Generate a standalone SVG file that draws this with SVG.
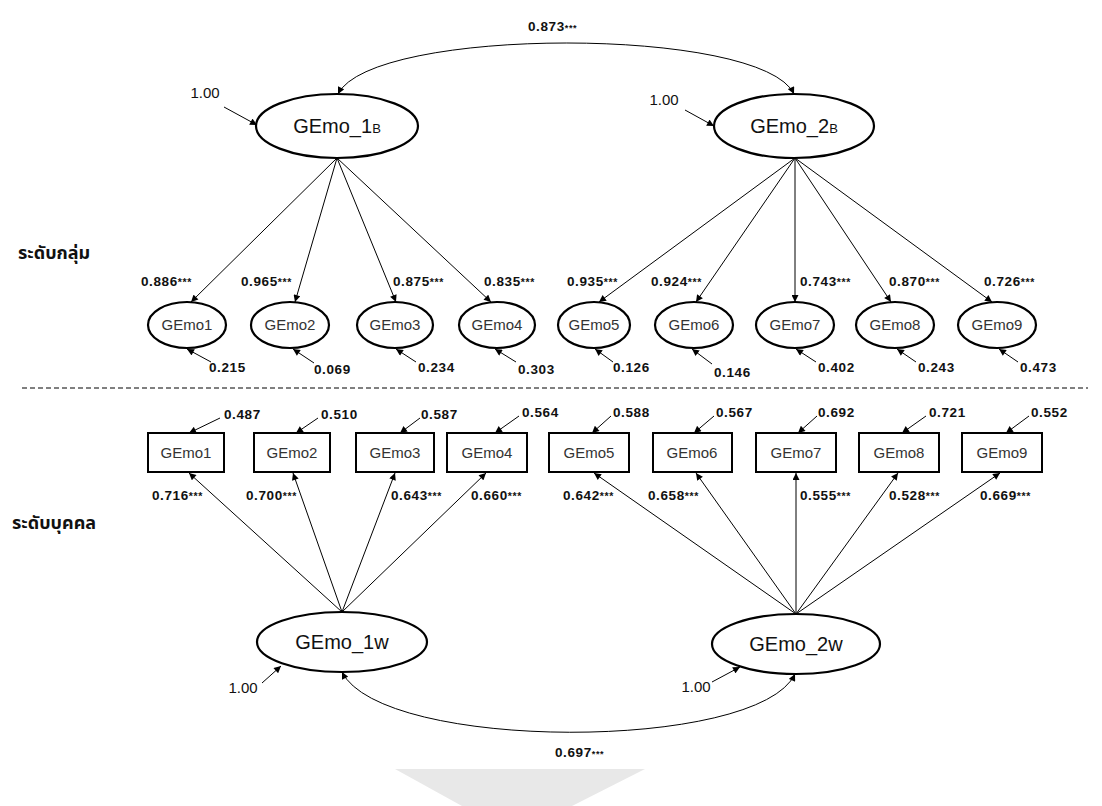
<svg xmlns="http://www.w3.org/2000/svg" width="1102" height="806" viewBox="0 0 1102 806">
  <style>
    .lat { fill: #fff; stroke: #000; stroke-width: 2.2; }
    .obs { fill: #fff; stroke: #000; stroke-width: 2; }
    .ln { fill: none; stroke: #000; stroke-width: 1; }
    .big { font-family: "Liberation Sans", Arial, sans-serif; font-size: 20px; fill: #111; text-anchor: middle; }
    .sub { font-size: 13px; }
    .ind { font-family: "Liberation Sans", Arial, sans-serif; font-size: 15px; fill: #333; text-anchor: middle; }
    .num { font-family: "Liberation Sans", Arial, sans-serif; font-size: 13.5px; font-weight: bold; fill: #111; letter-spacing: 0.6px; }
    .star { font-size: 10.5px; }
    .tiny { font-size: 9px; }
    .one { font-family: "Liberation Sans", Arial, sans-serif; font-size: 15px; fill: #111; text-anchor: middle; }
    .lvl { font-family: "Noto Sans Thai", "Noto Sans", Tahoma, "Loma", sans-serif; font-size: 18px; font-weight: bold; fill: #111; }
  </style>
  <defs>
    <marker id="ah" viewBox="0 0 10 10" refX="10" refY="5" markerWidth="8" markerHeight="7" markerUnits="userSpaceOnUse" orient="auto-start-reverse">
      <path d="M0,0 L10,5 L0,10 z" fill="#000"/>
    </marker>
  </defs>

  <rect width="1102" height="806" fill="#fff"/>

  <!-- light watermark wedge at the bottom edge -->
  <polygon points="395,769 645,769 572,806 462,806" fill="#e8e8e8"/>

  <!-- level captions -->
  <text class="lvl" x="18" y="259">ระดับกลุ่ม</text>
  <text class="lvl" x="12" y="529">ระดับบุคคล</text>

  <!-- separator between the two levels -->
  <line x1="22" y1="388" x2="1088" y2="388" stroke="#000" stroke-width="1" stroke-dasharray="5,3"/>

  <g id="connectors">
    <!-- between-level covariance -->
    <path class="ln" d="M338,94 C372,26 762,26 794,94" marker-start="url(#ah)" marker-end="url(#ah)"/>
    <!-- between-level variances -->
    <line class="ln" x1="224" y1="107" x2="257" y2="125" marker-end="url(#ah)"/>
    <line class="ln" x1="685" y1="110" x2="714" y2="126" marker-end="url(#ah)"/>
    <!-- between-level loadings -->
    <line class="ln" x1="337" y1="158" x2="191" y2="302" marker-end="url(#ah)"/>
    <line class="ln" x1="337" y1="158" x2="295" y2="302" marker-end="url(#ah)"/>
    <line class="ln" x1="337" y1="158" x2="396" y2="302" marker-end="url(#ah)"/>
    <line class="ln" x1="337" y1="158" x2="491" y2="302" marker-end="url(#ah)"/>
    <line class="ln" x1="795" y1="158" x2="599" y2="302" marker-end="url(#ah)"/>
    <line class="ln" x1="795" y1="158" x2="696" y2="302" marker-end="url(#ah)"/>
    <line class="ln" x1="795" y1="158" x2="795" y2="302" marker-end="url(#ah)"/>
    <line class="ln" x1="795" y1="158" x2="891" y2="302" marker-end="url(#ah)"/>
    <line class="ln" x1="795" y1="158" x2="992" y2="302" marker-end="url(#ah)"/>
    <!-- between-level residuals -->
    <line class="ln" x1="211" y1="362" x2="187" y2="349" marker-end="url(#ah)"/>
    <line class="ln" x1="314" y1="363" x2="293" y2="349" marker-end="url(#ah)"/>
    <line class="ln" x1="416" y1="362" x2="396" y2="349" marker-end="url(#ah)"/>
    <line class="ln" x1="516" y1="362" x2="495" y2="349" marker-end="url(#ah)"/>
    <line class="ln" x1="613" y1="362" x2="595" y2="349" marker-end="url(#ah)"/>
    <line class="ln" x1="712" y1="364" x2="692" y2="349" marker-end="url(#ah)"/>
    <line class="ln" x1="816" y1="362" x2="796" y2="349" marker-end="url(#ah)"/>
    <line class="ln" x1="916" y1="362" x2="897" y2="349" marker-end="url(#ah)"/>
    <line class="ln" x1="1018" y1="362" x2="999" y2="349" marker-end="url(#ah)"/>
    <!-- within-level residuals -->
    <line class="ln" x1="220" y1="418" x2="189" y2="433" marker-end="url(#ah)"/>
    <line class="ln" x1="318" y1="418" x2="296" y2="433" marker-end="url(#ah)"/>
    <line class="ln" x1="420" y1="418" x2="400" y2="433" marker-end="url(#ah)"/>
    <line class="ln" x1="519" y1="416" x2="495" y2="433" marker-end="url(#ah)"/>
    <line class="ln" x1="611" y1="416" x2="592" y2="433" marker-end="url(#ah)"/>
    <line class="ln" x1="714" y1="416" x2="694" y2="433" marker-end="url(#ah)"/>
    <line class="ln" x1="817" y1="416" x2="798" y2="433" marker-end="url(#ah)"/>
    <line class="ln" x1="926" y1="416" x2="902" y2="433" marker-end="url(#ah)"/>
    <line class="ln" x1="1029" y1="416" x2="1006" y2="433" marker-end="url(#ah)"/>
    <!-- within-level loadings -->
    <line class="ln" x1="342" y1="612" x2="189" y2="473" marker-end="url(#ah)"/>
    <line class="ln" x1="342" y1="612" x2="293" y2="473" marker-end="url(#ah)"/>
    <line class="ln" x1="342" y1="612" x2="395" y2="473" marker-end="url(#ah)"/>
    <line class="ln" x1="342" y1="612" x2="486" y2="473" marker-end="url(#ah)"/>
    <line class="ln" x1="796" y1="614" x2="594" y2="473" marker-end="url(#ah)"/>
    <line class="ln" x1="796" y1="614" x2="696" y2="473" marker-end="url(#ah)"/>
    <line class="ln" x1="796" y1="614" x2="796" y2="473" marker-end="url(#ah)"/>
    <line class="ln" x1="796" y1="614" x2="898" y2="473" marker-end="url(#ah)"/>
    <line class="ln" x1="796" y1="614" x2="1000" y2="473" marker-end="url(#ah)"/>
    <!-- within-level variances -->
    <line class="ln" x1="262" y1="683" x2="281" y2="666" marker-end="url(#ah)"/>
    <line class="ln" x1="712" y1="682" x2="740" y2="667" marker-end="url(#ah)"/>
    <!-- within-level covariance -->
    <path class="ln" d="M342,672 C382,752 758,752 795,674" marker-start="url(#ah)" marker-end="url(#ah)"/>
  </g>

  <!-- between-level factors -->
  <g id="GEmo_1B">
    <ellipse class="lat" cx="337" cy="126" rx="81" ry="32"/>
    <text class="big" x="337" y="133">GEmo_1<tspan class="sub">B</tspan></text>
  </g>
  <g id="GEmo_2B">
    <ellipse class="lat" cx="794" cy="126" rx="80" ry="32"/>
    <text class="big" x="794" y="133">GEmo_2<tspan class="sub">B</tspan></text>
  </g>

  <!-- between-level indicators -->
  <g id="b_GEmo1"><ellipse class="lat" cx="187" cy="325" rx="39" ry="23"/><text class="ind" x="187" y="330">GEmo1</text></g>
  <g id="b_GEmo2"><ellipse class="lat" cx="290" cy="325" rx="39" ry="23"/><text class="ind" x="290" y="330">GEmo2</text></g>
  <g id="b_GEmo3"><ellipse class="lat" cx="395" cy="325" rx="38" ry="23"/><text class="ind" x="395" y="330">GEmo3</text></g>
  <g id="b_GEmo4"><ellipse class="lat" cx="497" cy="325" rx="38" ry="23"/><text class="ind" x="497" y="330">GEmo4</text></g>
  <g id="b_GEmo5"><ellipse class="lat" cx="594" cy="325" rx="36" ry="23"/><text class="ind" x="594" y="330">GEmo5</text></g>
  <g id="b_GEmo6"><ellipse class="lat" cx="694" cy="325" rx="39" ry="23"/><text class="ind" x="694" y="330">GEmo6</text></g>
  <g id="b_GEmo7"><ellipse class="lat" cx="795" cy="325" rx="39" ry="23"/><text class="ind" x="795" y="330">GEmo7</text></g>
  <g id="b_GEmo8"><ellipse class="lat" cx="895" cy="325" rx="39" ry="23"/><text class="ind" x="895" y="330">GEmo8</text></g>
  <g id="b_GEmo9"><ellipse class="lat" cx="997" cy="325" rx="39" ry="23"/><text class="ind" x="997" y="330">GEmo9</text></g>

  <!-- within-level indicators -->
  <g id="w_GEmo1"><rect class="obs" x="148" y="433" width="76" height="39"/><text class="ind" x="186" y="458">GEmo1</text></g>
  <g id="w_GEmo2"><rect class="obs" x="254" y="433" width="76" height="39"/><text class="ind" x="292" y="458">GEmo2</text></g>
  <g id="w_GEmo3"><rect class="obs" x="356" y="433" width="78" height="39"/><text class="ind" x="395" y="458">GEmo3</text></g>
  <g id="w_GEmo4"><rect class="obs" x="447" y="433" width="80" height="39"/><text class="ind" x="487" y="458">GEmo4</text></g>
  <g id="w_GEmo5"><rect class="obs" x="549" y="433" width="80" height="39"/><text class="ind" x="589" y="458">GEmo5</text></g>
  <g id="w_GEmo6"><rect class="obs" x="653" y="433" width="79" height="39"/><text class="ind" x="692" y="458">GEmo6</text></g>
  <g id="w_GEmo7"><rect class="obs" x="756" y="433" width="80" height="39"/><text class="ind" x="796" y="458">GEmo7</text></g>
  <g id="w_GEmo8"><rect class="obs" x="859" y="433" width="80" height="39"/><text class="ind" x="899" y="458">GEmo8</text></g>
  <g id="w_GEmo9"><rect class="obs" x="962" y="433" width="80" height="39"/><text class="ind" x="1002" y="458">GEmo9</text></g>

  <!-- within-level factors -->
  <g id="GEmo_1w">
    <ellipse class="lat" cx="342" cy="642" rx="85" ry="30"/>
    <text class="big" x="342" y="649">GEmo_1w</text>
  </g>
  <g id="GEmo_2w">
    <ellipse class="lat" cx="796" cy="644" rx="84" ry="30"/>
    <text class="big" x="796" y="651">GEmo_2w</text>
  </g>

  <!-- estimates -->
  <g id="labels">
    <text class="num" x="528" y="31">0.873<tspan class="tiny">***</tspan></text>
    <text class="one" x="205" y="98">1.00</text>
    <text class="one" x="664" y="105">1.00</text>

    <text class="num" x="141" y="286">0.886<tspan class="star">***</tspan></text>
    <text class="num" x="241" y="286">0.965<tspan class="star">***</tspan></text>
    <text class="num" x="393" y="286">0.875<tspan class="star">***</tspan></text>
    <text class="num" x="484" y="286">0.835<tspan class="star">***</tspan></text>
    <text class="num" x="567" y="286">0.935<tspan class="star">***</tspan></text>
    <text class="num" x="651" y="286">0.924<tspan class="star">***</tspan></text>
    <text class="num" x="800" y="286">0.743<tspan class="star">***</tspan></text>
    <text class="num" x="889" y="286">0.870<tspan class="star">***</tspan></text>
    <text class="num" x="984" y="286">0.726<tspan class="star">***</tspan></text>

    <text class="num" x="209" y="372">0.215</text>
    <text class="num" x="314" y="374">0.069</text>
    <text class="num" x="418" y="372">0.234</text>
    <text class="num" x="518" y="374">0.303</text>
    <text class="num" x="613" y="372">0.126</text>
    <text class="num" x="714" y="377">0.146</text>
    <text class="num" x="818" y="372">0.402</text>
    <text class="num" x="918" y="372">0.243</text>
    <text class="num" x="1020" y="372">0.473</text>

    <text class="num" x="224" y="419">0.487</text>
    <text class="num" x="321" y="419">0.510</text>
    <text class="num" x="421" y="419">0.587</text>
    <text class="num" x="522" y="417">0.564</text>
    <text class="num" x="613" y="417">0.588</text>
    <text class="num" x="716" y="417">0.567</text>
    <text class="num" x="818" y="417">0.692</text>
    <text class="num" x="929" y="417">0.721</text>
    <text class="num" x="1031" y="417">0.552</text>

    <text class="num" x="152" y="500">0.716<tspan class="star">***</tspan></text>
    <text class="num" x="246" y="500">0.700<tspan class="star">***</tspan></text>
    <text class="num" x="391" y="500">0.643<tspan class="star">***</tspan></text>
    <text class="num" x="471" y="500">0.660<tspan class="star">***</tspan></text>
    <text class="num" x="563" y="500">0.642<tspan class="star">***</tspan></text>
    <text class="num" x="648" y="500">0.658<tspan class="star">***</tspan></text>
    <text class="num" x="800" y="500">0.555<tspan class="star">***</tspan></text>
    <text class="num" x="889" y="500">0.528<tspan class="star">***</tspan></text>
    <text class="num" x="980" y="500">0.669<tspan class="star">***</tspan></text>

    <text class="one" x="243" y="693">1.00</text>
    <text class="one" x="696" y="692">1.00</text>
    <text class="num" x="555" y="757">0.697<tspan class="tiny">***</tspan></text>
  </g>
</svg>
